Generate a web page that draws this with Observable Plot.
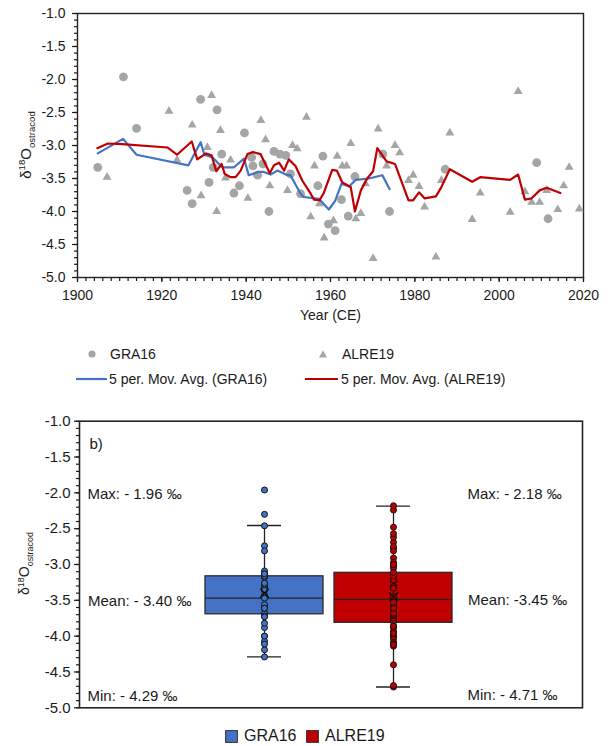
<!DOCTYPE html>
<html><head><meta charset="utf-8">
<script src="https://cdn.jsdelivr.net/npm/d3@7"></script>
<script src="https://cdn.jsdelivr.net/npm/@observablehq/plot@0.6"></script>
<style>
body{margin:0;background:#fff;font-family:"Liberation Sans",Arial,sans-serif;}
#wrap{position:relative;width:611px;height:746px;overflow:hidden;background:#fff}
.abs{position:absolute;left:0}
.leg{position:absolute;color:#1a1a1a;white-space:nowrap;display:flex;align-items:center}
.leg svg{display:block}
</style></head><body><div id="wrap"></div>
<script>
// ---------- data ----------
const graYears  = [1904.8,1910.9,1914.0,1926.0,1927.2,1929.2,1931.2,1932.2,1933.1,1934.2,1937.1,1938.4,1939.6,1941.3,1941.6,1942.7,1944.0,1945.4,1946.6,1948.0,1949.4,1950.5,1952.9,1957.0,1958.2,1959.5,1961.1,1962.6,1964.2,1965.8,1972.4,1974.0,1987.2,2008.9,2011.6];
const graValues = [-3.33,-1.96,-2.74,-3.68,-3.88,-2.30,-3.56,-3.33,-2.46,-3.13,-3.72,-3.61,-2.81,-3.18,-3.31,-3.45,-3.28,-4.00,-3.09,-3.13,-3.15,-3.43,-3.73,-3.61,-3.16,-4.19,-4.29,-3.82,-4.07,-3.47,-3.13,-4.00,-3.36,-3.26,-4.11];

const alreYears  = [1907.0,1921.7,1923.6,1927.2,1929.3,1930.8,1931.8,1933.0,1933.9,1935.1,1936.3,1940.4,1943.5,1944.6,1945.6,1949.8,1951.0,1952.1,1953.2,1954.3,1955.3,1956.2,1957.4,1958.5,1960.7,1961.6,1962.8,1963.8,1964.8,1966.0,1967.2,1968.3,1970.1,1971.3,1973.3,1975.3,1976.4,1978.5,1979.6,1981.0,1982.3,1985.0,1986.3,1988.3,1993.6,1995.5,2002.6,2004.5,2006.1,2007.7,2009.6,2011.3,2013.9,2015.3,2016.6,2019.0];
const alreValues = [-3.48,-2.48,-3.22,-2.69,-3.76,-3.03,-2.24,-4.00,-2.77,-3.49,-3.22,-3.80,-2.62,-2.91,-3.61,-3.68,-3.00,-3.05,-3.75,-2.57,-4.08,-3.31,-3.88,-4.40,-4.14,-3.16,-3.31,-3.31,-2.97,-4.11,-4.03,-3.58,-4.71,-2.75,-3.31,-3.00,-3.11,-3.53,-3.45,-3.62,-3.93,-4.69,-3.53,-2.81,-4.12,-3.72,-4.01,-2.18,-3.70,-3.86,-3.86,-3.68,-3.97,-3.61,-3.33,-3.96];

// 5 per. moving averages (vertices as drawn)
const graMaYears  = [1904.8,1910.8,1914.0,1926.3,1929.2,1930.1,1932.0,1934.3,1937.1,1939.5,1940.6,1942.9,1944.2,1945.8,1947.4,1949.8,1950.5,1952.9,1953.6,1957.3,1959.6,1961.1,1962.6,1964.4,1966.0,1969.1,1972.3,1974.0];
const graMaValues = [-3.12,-2.90,-3.14,-3.30,-2.95,-3.14,-3.18,-3.33,-3.33,-3.20,-3.45,-3.40,-3.40,-3.44,-3.38,-3.45,-3.45,-3.73,-3.78,-3.81,-3.97,-3.84,-3.58,-3.62,-3.52,-3.50,-3.45,-3.66];

const alreMaYears  = [1904.7,1907.2,1910.6,1921.3,1923.6,1927.1,1928.4,1930.5,1931.8,1932.9,1934.2,1934.9,1936.3,1937.5,1938.7,1940.3,1941.6,1943.4,1945.6,1946.6,1947.8,1949.0,1950.1,1951.7,1953.3,1955.3,1956.1,1957.4,1958.4,1960.4,1961.5,1962.8,1964.8,1965.8,1967.2,1968.7,1970.1,1971.1,1973.3,1975.3,1978.5,1979.6,1981.0,1982.3,1985.0,1986.3,1988.3,1993.6,1995.5,2002.6,2004.5,2006.1,2007.7,2009.6,2011.3,2014.5];
const alreMaValues = [-3.04,-2.97,-2.98,-3.03,-3.14,-2.94,-3.21,-3.12,-3.15,-3.39,-3.28,-3.43,-3.48,-3.48,-3.38,-3.13,-3.10,-3.13,-3.42,-3.30,-3.26,-3.38,-3.21,-3.31,-3.53,-3.73,-3.82,-3.83,-3.72,-3.37,-3.38,-3.56,-3.63,-4.00,-3.68,-3.50,-3.39,-3.04,-3.24,-3.28,-3.83,-3.83,-3.71,-3.80,-3.77,-3.63,-3.36,-3.55,-3.48,-3.52,-3.44,-3.82,-3.80,-3.68,-3.64,-3.72];

// box-plot statistics
const boxNames   = ["GRA16", "ALRE19"];
const boxQ1      = [-3.695, -3.814];
const boxMedian  = [-3.468, -3.488];
const boxQ3      = [-3.165, -3.116];
const boxLow     = [-4.29, -4.71];
const boxHigh    = [-2.456, -2.186];
const boxMean    = [-3.40, -3.45];
const statLabels = ["Max: - 1.96 \u2030", "Mean: - 3.40 \u2030", "Min: - 4.29 \u2030",
                    "Max: - 2.18 \u2030", "Mean: -3.45 \u2030", "Min: - 4.71 \u2030"];

const yTicks = [-5.0,-4.5,-4.0,-3.5,-3.0,-2.5,-2.0,-1.5,-1.0];
const xTicks = [1900,1920,1940,1960,1980,2000,2020];

// ---------- styling ----------
const FONT = "Liberation Sans, Arial, sans-serif";
const GREY = "#a5a5a5", BLUE = "#4472c4", RED = "#c00000";
const colors = {GRA16: BLUE, ALRE19: RED};

const gra  = graYears.map((y, i) => ({year: y, value: graValues[i]}));
const alre = alreYears.map((y, i) => ({year: y, value: alreValues[i]}));
const graMa  = graMaYears.map((y, i) => ({year: y, value: graMaValues[i]}));
const alreMa = alreMaYears.map((y, i) => ({year: y, value: alreMaValues[i]}));
const stats = boxNames.map((n, i) => ({name: n, q1: boxQ1[i], median: boxMedian[i], q3: boxQ3[i], low: boxLow[i], high: boxHigh[i], mean: boxMean[i]}));
const boxDots = [...graValues.map(v => ({name: "GRA16", value: v})), ...alreValues.map(v => ({name: "ALRE19", value: v}))];

const minorY = d3.range(-50, -9, 1).map(d => d / 10);
const minorX = d3.range(1900, 2021, 2);
const fmt = d => d.toFixed(1);

function yLabel(svg, x, y, size) {
  const t = d3.select(svg).append("text")
    .attr("transform", `translate(${x},${y}) rotate(-90)`)
    .attr("text-anchor", "middle").attr("font-family", FONT)
    .attr("font-size", size).attr("fill", "#1a1a1a");
  t.append("tspan").text("\u03b4");
  t.append("tspan").attr("font-size", size * 0.64).attr("dy", -size * 0.38).text("18");
  t.append("tspan").attr("dy", size * 0.38).text("O");
  t.append("tspan").attr("font-size", size * 0.64).attr("dy", size * 0.28).text("ostracod");
}

const wrap = document.getElementById("wrap");

// ---------- panel a ----------
const chartA = Plot.plot({
  width: 611, height: 335,
  marginLeft: 77, marginRight: 28, marginTop: 13, marginBottom: 58,
  style: {fontFamily: FONT, fontSize: "14px", color: "#1a1a1a", background: "white"},
  x: {domain: [1900, 2020], axis: null},
  y: {domain: [-5, -1], axis: null},
  marks: [
    Plot.axisX(minorX, {tickSize: 4, tickFormat: () => "", label: null, strokeWidth: 1.2}),
    Plot.axisX(xTicks, {tickSize: 5, tickPadding: 8, tickFormat: d => String(d), label: null, fontSize: 14, strokeWidth: 1.2}),
    Plot.axisY(minorY, {tickSize: 3, tickFormat: () => "", label: null, strokeWidth: 1.2}),
    Plot.axisY(yTicks, {tickSize: 5, tickPadding: 7, tickFormat: fmt, label: null, fontSize: 14, strokeWidth: 1.2}),
    Plot.frame({stroke: "#222", strokeWidth: 1.4}),
    Plot.dot(gra, {x: "year", y: "value", r: 4.4, fill: GREY, symbol: "circle"}),
    Plot.dot(alre, {x: "year", y: "value", r: 3.3, fill: GREY, symbol: "triangle"}),
    Plot.line(graMa, {x: "year", y: "value", stroke: BLUE, strokeWidth: 2.2}),
    Plot.line(alreMa, {x: "year", y: "value", stroke: RED, strokeWidth: 2.2}),
    Plot.text(["Year (CE)"], {frameAnchor: "bottom", dy: 42, fontSize: 14})
  ]
});
yLabel(chartA, 31, 145, 15);
chartA.classList.add("abs"); chartA.style.top = "0px";
wrap.appendChild(chartA);

function legItem(html, left, topPx, fontSize) {
  const d = document.createElement("div");
  d.className = "leg";
  d.style.left = left + "px"; d.style.top = topPx + "px"; d.style.fontSize = fontSize + "px";
  d.style.height = "20px";
  d.innerHTML = html;
  wrap.appendChild(d);
}
legItem(`<svg width="10" height="10"><circle cx="5" cy="5" r="3.6" fill="${GREY}"/></svg><span style="margin-left:13px">GRA16</span>`, 87, 344, 14);
legItem(`<svg width="10" height="10"><path d="M5,1.2 L9,8.6 L1,8.6 Z" fill="${GREY}"/></svg><span style="margin-left:14px">ALRE19</span>`, 318, 344, 14);
legItem(`<svg width="31" height="4"><line x1="0" y1="2" x2="31" y2="2" stroke="${BLUE}" stroke-width="2.2"/></svg><span style="margin-left:2px">5 per. Mov. Avg. (GRA16)</span>`, 76, 369, 14);
legItem(`<svg width="33" height="4"><line x1="0" y1="2" x2="33" y2="2" stroke="${RED}" stroke-width="2.2"/></svg><span style="margin-left:3px">5 per. Mov. Avg. (ALRE19)</span>`, 305, 369, 14);

// ---------- panel b ----------
const chartB = Plot.plot({
  width: 611, height: 320,
  marginLeft: 79, marginRight: 29, marginTop: 20.7, marginBottom: 12.7,
  style: {fontFamily: FONT, fontSize: "14px", color: "#1a1a1a", background: "white"},
  x: {type: "band", domain: boxNames, range: [205, 453], paddingInner: 0.085, paddingOuter: 0, axis: null},
  y: {domain: [-5, -1], axis: null},
  marks: [
    Plot.axisY(minorY, {tickSize: 3, tickFormat: () => "", label: null, strokeWidth: 1.2}),
    Plot.axisY(yTicks, {tickSize: 5, tickPadding: 4, tickFormat: fmt, label: null, fontSize: 15, strokeWidth: 1.2}),
    Plot.frame({stroke: "#222", strokeWidth: 1.6}),
    Plot.barY(stats, {x: "name", y1: "q1", y2: "q3", fill: d => colors[d.name], stroke: "#2a2a2a", strokeWidth: 1.3}),
    Plot.ruleX(stats, {x: "name", y1: "low", y2: "high", stroke: "#222", strokeWidth: 1.3}),
    Plot.tickY(stats, {x: "name", y: "high", stroke: "#222", strokeWidth: 1.3, insetLeft: 42, insetRight: 42}),
    Plot.tickY(stats, {x: "name", y: "low", stroke: "#222", strokeWidth: 1.3, insetLeft: 42, insetRight: 42}),
    Plot.tickY(stats, {x: "name", y: "median", stroke: "#222", strokeWidth: 1.3}),
    Plot.dot(boxDots, {x: "name", y: "value", r: 3, fill: d => colors[d.name], stroke: "#111", strokeWidth: 1}),
    Plot.dot(stats, {x: "name", y: "mean", r: 4, symbol: "times", stroke: "#111", strokeWidth: 1.4}),
    Plot.text(["b)"], {frameAnchor: "top-left", dx: 10, dy: 17, textAnchor: "start", fontSize: 15}),
    Plot.text([statLabels[0]], {frameAnchor: "top-left", dx: 8, dy: 67.5, textAnchor: "start", fontSize: 15}),
    Plot.text([statLabels[1]], {frameAnchor: "top-left", dx: 8.5, dy: 174.3, textAnchor: "start", fontSize: 15}),
    Plot.text([statLabels[2]], {frameAnchor: "top-left", dx: 8, dy: 269.3, textAnchor: "start", fontSize: 15}),
    Plot.text([statLabels[3]], {frameAnchor: "top-left", dx: 388, dy: 67, textAnchor: "start", fontSize: 15}),
    Plot.text([statLabels[4]], {frameAnchor: "top-left", dx: 388.5, dy: 173, textAnchor: "start", fontSize: 15}),
    Plot.text([statLabels[5]], {frameAnchor: "top-left", dx: 388, dy: 268, textAnchor: "start", fontSize: 15})
  ]
});
yLabel(chartB, 29, 163.5, 14);
chartB.classList.add("abs"); chartB.style.top = "400px";
wrap.appendChild(chartB);

legItem(`<svg width="13" height="13"><rect x="0.6" y="0.6" width="11.8" height="11.8" fill="${BLUE}" stroke="#333" stroke-width="1"/></svg><span style="margin-left:6px">GRA16</span>`, 225, 726, 16);
legItem(`<svg width="13" height="13"><rect x="0.6" y="0.6" width="11.8" height="11.8" fill="${RED}" stroke="#333" stroke-width="1"/></svg><span style="margin-left:6px">ALRE19</span>`, 306, 726, 16);
</script></body></html>
